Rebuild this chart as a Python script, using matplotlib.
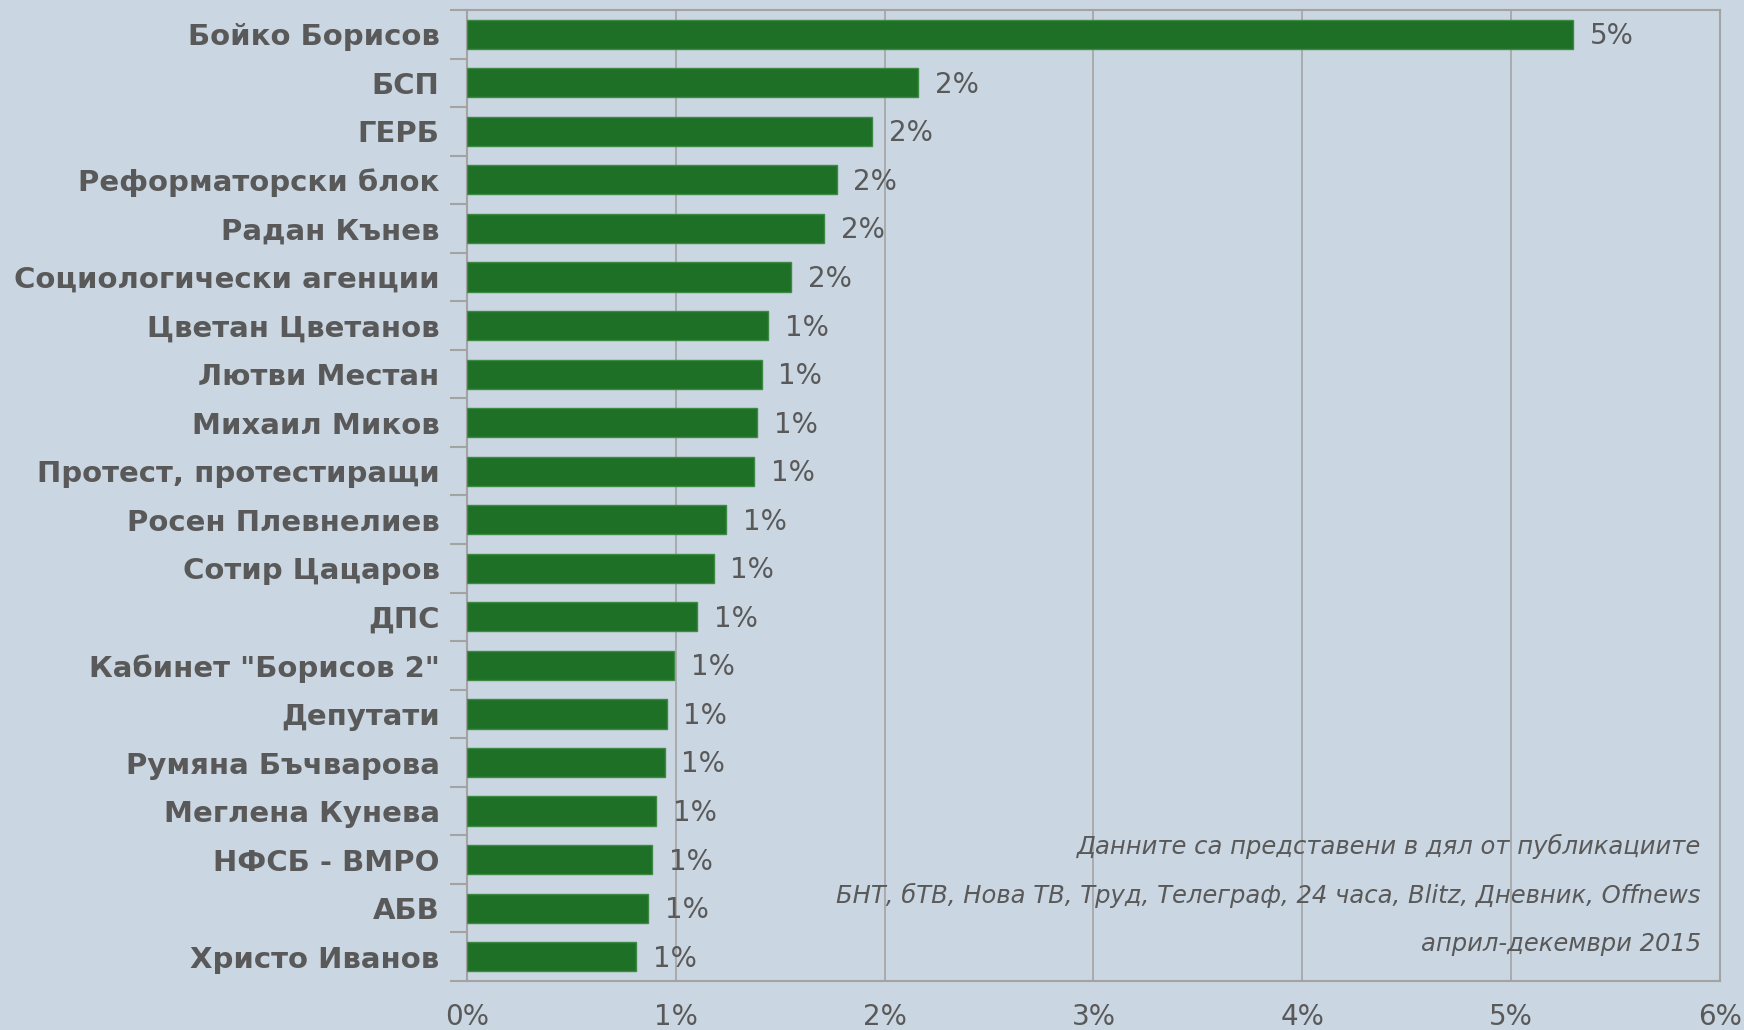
import numpy as np
import matplotlib.pyplot as plt
import matplotlib as mlp

# categories top -> bottom, share of mentions in %
names = ['Бойко Борисов', 'БСП', 'ГЕРБ', 'Реформаторски блок', 'Радан Кънев',
         'Социологически агенции', 'Цветан Цветанов', 'Лютви Местан', 'Михаил Миков',
         'Протест, протестиращи', 'Росен Плевнелиев', 'Сотир Цацаров', 'ДПС',
         'Кабинет "Борисов 2"', 'Депутати', 'Румяна Бъчварова', 'Меглена Кунева',
         'НФСБ - ВМРО', 'АБВ', 'Христо Иванов']
values = [5.30, 2.16, 1.94, 1.77, 1.71, 1.55, 1.44, 1.41, 1.39, 1.375,
          1.24, 1.18, 1.10, 0.99, 0.955, 0.945, 0.905, 0.885, 0.865, 0.81]
xticks = [0, 1, 2, 3, 4, 5, 6]
note = ['Данните са представени в дял от публикациите',
        'БНТ, бТВ, Нова ТВ, Труд, Телеграф, 24 часа, Blitz, Дневник, Offnews',
        'април-декември 2015']

bg = '#cad6e1'
txt = '#595959'
grid = '#a3a3a3'
green = '#1e7026'

mlp.rcParams['font.family'] = ['DejaVu Sans']
fig = plt.figure(figsize=(17.44, 10.30), dpi=100, facecolor=bg)
ax = fig.add_axes([0.268, 0.0476, 0.718, 0.9427])
ax.set_facecolor(bg)

y = np.arange(len(names))
ax.barh(y, values, height=0.6, color=green, edgecolor='#3d8a44', linewidth=1, zorder=3)
for yi, v in zip(y, values):
    ax.text(v + 0.08, yi + 0.04, '%d%%' % int(round(v)), va='center', ha='left',
            fontsize=20, color=txt, zorder=4)

ax.set_ylim(len(names) - 0.5, -0.5)
ax.set_xlim(0, 6)
ax.set_yticks(y)
ax.set_yticklabels(names, fontsize=21, fontweight='bold', color=txt)
ax.set_yticks(np.arange(-0.5, len(names), 1), minor=True)
ax.tick_params(axis='y', which='major', length=0, pad=20)
ax.tick_params(axis='y', which='minor', length=12, color=grid, width=1.5)
ax.set_xticks(xticks)
ax.set_xticklabels(['%d%%' % t for t in xticks], fontsize=20, color=txt)
ax.tick_params(axis='x', length=0, pad=16)
ax.grid(axis='x', color=grid, linewidth=1.2, zorder=0)
for s in ax.spines.values():
    s.set_color(grid)
    s.set_linewidth(1.5)

for i, line in enumerate(note):
    ax.text(0.985, 0.139 - i * 0.0505, line, transform=ax.transAxes, ha='right', va='center',
            fontsize=17.5, style='italic', color=txt,
            family=['Liberation Sans Narrow', 'DejaVu Sans'], zorder=5)

fig.savefig('out.png', dpi=100, facecolor=bg)
